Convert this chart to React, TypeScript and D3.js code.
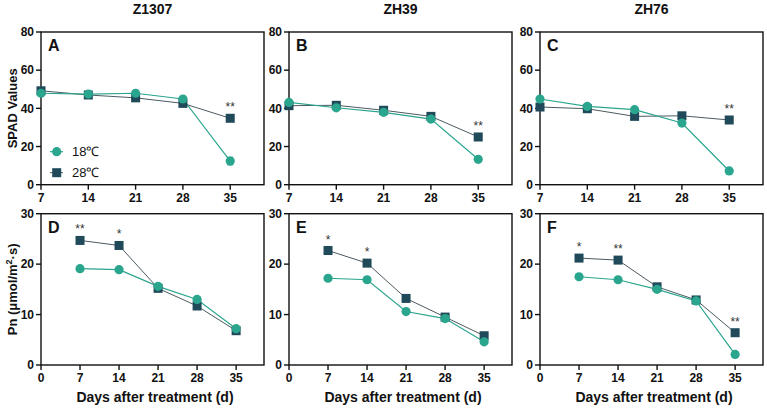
import React from "react";
import * as d3 from "d3";

const days = [7, 14, 21, 28, 35];
const cultivars = ["Z1307", "ZH39", "ZH76"];
const panelLettersTop = ["A", "B", "C"];
const panelLettersBottom = ["D", "E", "F"];

// SPAD values
const spad18 = [
  [47.9, 47.5, 47.9, 44.9, 12.4],
  [43.1, 40.3, 37.9, 34.4, 13.3],
  [44.9, 41.0, 39.3, 32.3, 7.2],
];
const spad28 = [
  [49.2, 47.0, 45.5, 42.6, 34.8],
  [41.4, 41.6, 39.0, 35.8, 25.0],
  [40.7, 39.8, 35.8, 36.1, 33.9],
];
const spad18Err = [
  [0.6, 0.5, 0.5, 0.6, 2.0],
  [0.4, 0.4, 0.4, 0.4, 0.5],
  [0.5, 0.4, 0.4, 0.4, 0.4],
];
const spadStars = [
  ["", "", "", "", "**"],
  ["", "", "", "", "**"],
  ["", "", "", "", "**"],
];

// Pn values
const pn18 = [
  [19.1, 18.9, 15.6, 13.0, 7.2],
  [17.2, 16.9, 10.6, 9.2, 4.6],
  [17.5, 16.9, 15.0, 12.7, 2.1],
];
const pn28 = [
  [24.7, 23.7, 15.2, 11.7, 6.8],
  [22.7, 20.2, 13.2, 9.5, 5.8],
  [21.2, 20.8, 15.5, 12.9, 6.4],
];
const pnStars = [
  ["**", "*", "", "", ""],
  ["*", "*", "", "", ""],
  ["*", "**", "", "", "**"],
];

const spadTicks = [0, 20, 40, 60, 80];
const pnTicks = [0, 10, 20, 30];
const topXTicks = [7, 14, 21, 28, 35];
const bottomXTicks = [0, 7, 14, 21, 28, 35];
const legendLabels = ["18℃", "28℃"];

const C18 = "#2aa58e";
const C28 = "#20495a";
const LINE28 = "#4d5a60";
const FONT = "'Liberation Sans', Arial, Helvetica, sans-serif";

const colX = [41, 289, 540];
const panelW = 223;
const topY0 = 32;
const topY1 = 184.7;
const botY0 = 213.7;
const botY1 = 365;

type PanelProps = {
  x0: number;
  y0: number;
  y1: number;
  xDomain: [number, number];
  yDomain: [number, number];
  xTicks: number[];
  yTicks: number[];
  low: number[];
  high: number[];
  lowErr?: number[];
  stars: string[];
  letter: string;
};

function Panel(p: PanelProps) {
  const x = d3.scaleLinear().domain(p.xDomain).range([p.x0, p.x0 + panelW]);
  const y = d3.scaleLinear().domain(p.yDomain).range([p.y1, p.y0]);
  const line = d3
    .line<number>()
    .x((_, i) => x(days[i]))
    .y((v) => y(v));
  const sq = 9;
  return (
    <g>
      <rect
        x={p.x0}
        y={p.y0}
        width={panelW}
        height={p.y1 - p.y0}
        fill="none"
        stroke="#111"
        strokeWidth={1.4}
      />
      {p.yTicks.map((t) => (
        <g key={"y" + t}>
          <line x1={p.x0 - 5} x2={p.x0} y1={y(t)} y2={y(t)} stroke="#111" strokeWidth={1.4} />
          <text
            x={p.x0 - 7}
            y={y(t)}
            dy="0.36em"
            textAnchor="end"
            fontSize={12}
            fontWeight="bold"
            fontFamily={FONT}
            fill="#111"
          >
            {t}
          </text>
        </g>
      ))}
      {p.xTicks.map((t) => (
        <g key={"x" + t}>
          <line x1={x(t)} x2={x(t)} y1={p.y1} y2={p.y1 + 5} stroke="#111" strokeWidth={1.4} />
          <text
            x={x(t)}
            y={p.y1 + 17}
            textAnchor="middle"
            fontSize={12}
            fontWeight="bold"
            fontFamily={FONT}
            fill="#111"
          >
            {t}
          </text>
        </g>
      ))}
      <text
        x={p.x0 + 7}
        y={p.y0 + 19}
        fontSize={16}
        fontWeight="bold"
        fontFamily={FONT}
        fill="#111"
      >
        {p.letter}
      </text>
      <path d={line(p.high) || ""} fill="none" stroke={LINE28} strokeWidth={1} />
      <path d={line(p.low) || ""} fill="none" stroke={C18} strokeWidth={1.2} />
      {p.lowErr &&
        p.low.map((v, i) => (
          <g key={"e" + i}>
            <line x1={x(days[i])} x2={x(days[i])} y1={y(v - p.lowErr![i])} y2={y(v + p.lowErr![i])} stroke={C18} strokeWidth={1} />
            <line x1={x(days[i]) - 3} x2={x(days[i]) + 3} y1={y(v - p.lowErr![i])} y2={y(v - p.lowErr![i])} stroke={C18} strokeWidth={1} />
            <line x1={x(days[i]) - 3} x2={x(days[i]) + 3} y1={y(v + p.lowErr![i])} y2={y(v + p.lowErr![i])} stroke={C18} strokeWidth={1} />
          </g>
        ))}
      {p.high.map((v, i) => (
        <rect
          key={"s" + i}
          x={x(days[i]) - sq / 2}
          y={y(v) - sq / 2}
          width={sq}
          height={sq}
          fill={C28}
        />
      ))}
      {p.low.map((v, i) => (
        <circle key={"c" + i} cx={x(days[i])} cy={y(v)} r={4.6} fill={C18} />
      ))}
      {p.stars.map((s, i) =>
        s ? (
          <text
            key={"st" + i}
            x={x(days[i])}
            y={y(p.high[i]) - 7}
            textAnchor="middle"
            fontSize={12}
            fontFamily={FONT}
            fill="#333"
          >
            {s}
          </text>
        ) : null
      )}
    </g>
  );
}

export default function App() {
  return (
    <svg
      width={767}
      height={410}
      style={{ position: "absolute", left: 0, top: 0, background: "#fff" }}
    >
      <rect width={767} height={410} fill="#fff" />
      {cultivars.map((c, k) => (
        <text
          key={"t" + c}
          x={colX[k] + panelW / 2}
          y={14}
          textAnchor="middle"
          fontSize={14}
          fontWeight="bold"
          fontFamily={FONT}
          fill="#111"
        >
          {c}
        </text>
      ))}
      {cultivars.map((c, k) => (
        <Panel
          key={"top" + c}
          x0={colX[k]}
          y0={topY0}
          y1={topY1}
          xDomain={[7, 40]}
          yDomain={[0, 80]}
          xTicks={topXTicks}
          yTicks={spadTicks}
          low={spad18[k]}
          high={spad28[k]}
          lowErr={spad18Err[k]}
          stars={spadStars[k]}
          letter={panelLettersTop[k]}
        />
      ))}
      {cultivars.map((c, k) => (
        <Panel
          key={"bot" + c}
          x0={colX[k]}
          y0={botY0}
          y1={botY1}
          xDomain={[0, 40]}
          yDomain={[0, 30]}
          xTicks={bottomXTicks}
          yTicks={pnTicks}
          low={pn18[k]}
          high={pn28[k]}
          stars={pnStars[k]}
          letter={panelLettersBottom[k]}
        />
      ))}
      {cultivars.map((c, k) => (
        <text
          key={"xl" + c}
          x={colX[k] + 114}
          y={402}
          textAnchor="middle"
          fontSize={14}
          fontWeight="bold"
          fontFamily={FONT}
          fill="#111"
        >
          Days after treatment (d)
        </text>
      ))}
      <text
        transform={`translate(17,${(topY0 + topY1) / 2}) rotate(-90)`}
        textAnchor="middle"
        fontSize={13}
        fontWeight="bold"
        fontFamily={FONT}
        fill="#111"
      >
        SPAD Values
      </text>
      <text
        transform={`translate(17,${(botY0 + botY1) / 2}) rotate(-90)`}
        textAnchor="middle"
        fontSize={13}
        fontWeight="bold"
        fontFamily={FONT}
        fill="#111"
      >
        Pn (μmol/m<tspan dy={-5} fontSize={9}>2</tspan>
        <tspan dy={5}>·s)</tspan>
      </text>
      {/* legend */}
      <g>
        <line x1={50} x2={63} y1={151.7} y2={151.7} stroke={C18} strokeWidth={1.2} />
        <circle cx={56.7} cy={151.7} r={4.6} fill={C18} />
        <text x={72} y={151.7} dy="0.36em" fontSize={13} fontFamily={FONT} fill="#111">
          {legendLabels[0]}
        </text>
        <line x1={50} x2={63} y1={172.7} y2={172.7} stroke={LINE28} strokeWidth={1} />
        <rect x={56.7 - 4.5} y={172.7 - 4.5} width={9} height={9} fill={C28} />
        <text x={72} y={172.7} dy="0.36em" fontSize={13} fontFamily={FONT} fill="#111">
          {legendLabels[1]}
        </text>
      </g>
    </svg>
  );
}
